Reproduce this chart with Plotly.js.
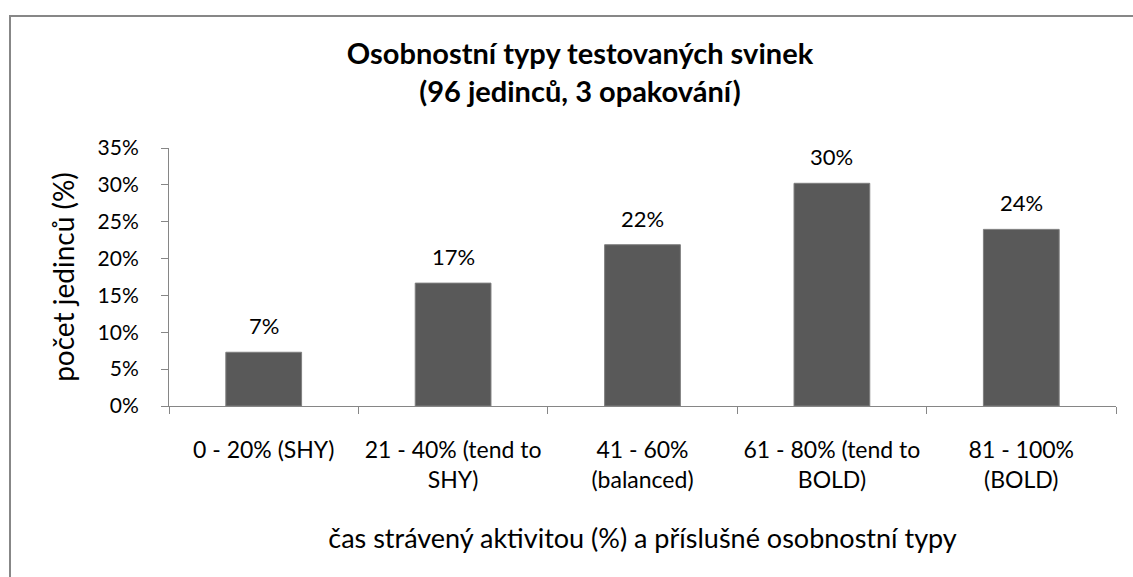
<!DOCTYPE html>
<html>
<head>
<meta charset="utf-8">
<script src="https://cdn.plot.ly/plotly-3.0.1.min.js"></script>
<style>
  html, body { margin: 0; padding: 0; background: #fff; }
  #wrap { position: relative; width: 1133px; height: 577px; overflow: hidden; }
  #chart { position: absolute; left: 0; top: 0; width: 1133px; height: 577px; }
  #frame { position: absolute; left: 9px; top: 15px; width: 1200px; height: 700px;
           border: 2px solid #878787; pointer-events: none; box-sizing: border-box; }
</style>
</head>
<body>
<div id="wrap">
  <div id="chart"></div>
  <div id="frame"></div>
</div>
<script>
const categories = ["0-20", "21-40", "41-60", "61-80", "81-100"];
const tickLabels = [
  "0 - 20% (SHY)",
  "21 - 40% (tend to<br>SHY)",
  "41 - 60%<br>(balanced)",
  "61 - 80% (tend to<br>BOLD)",
  "81 - 100%<br>(BOLD)"
];
const percentValues = [7.29, 16.67, 21.88, 30.21, 23.96];
const yTickVals = [0, 5, 10, 15, 20, 25, 30, 35];

const FONT = "Lato, 'Open Sans', sans-serif";

const trace = {
  type: "bar",
  x: categories,
  y: percentValues,
  width: 0.4,
  marker: { color: "#595959", line: { color: "#7f7f7f", width: 1 } },
  hoverinfo: "skip"
};

const annotations = categories.map((c, i) => ({
  x: c, y: percentValues[i], xref: "x", yref: "y",
  text: Math.round(percentValues[i]) + "%",
  showarrow: false, yanchor: "bottom", yshift: 11,
  font: { family: FONT, size: 22, color: "#000" }
}));

const layout = {
  width: 1133, height: 577,
  margin: { l: 169, r: 17, t: 148, b: 171, pad: 0 },
  paper_bgcolor: "#fff", plot_bgcolor: "#fff",
  showlegend: false,
  font: { family: FONT, color: "#000" },
  title: {
    text: "<b>Osobnostní typy testovaných svinek<br>(96 jedinců, 3 opakování)</b>",
    font: { family: FONT, size: 29, color: "#000" },
    x: 580 / 1133, xref: "container", xanchor: "center",
    y: 1 - 64 / 577, yref: "container", yanchor: "top"
  },
  xaxis: {
    type: "category",
    tickvals: categories, ticktext: tickLabels,
    tickson: "boundaries",
    ticks: "outside", ticklen: 7, tickcolor: "#868686", tickwidth: 1,
    showline: true, linecolor: "#868686", linewidth: 1,
    showgrid: false, zeroline: false,
    tickfont: { family: FONT, size: 23, color: "#000" },
    ticklabelstandoff: 23,
    title: {
      text: "čas strávený aktivitou (%) a příslušné osobnostní typy",
      font: { family: FONT, size: 27, color: "#000" },
      standoff: 37
    },
    automargin: false
  },
  yaxis: {
    range: [0, 35],
    tickvals: yTickVals,
    ticktext: yTickVals.map(v => v + "%"),
    ticks: "outside", ticklen: 7, tickcolor: "#868686", tickwidth: 1,
    showline: true, linecolor: "#868686", linewidth: 1,
    showgrid: false, zeroline: false,
    tickfont: { family: FONT, size: 21, color: "#000" },
    ticklabelstandoff: 18,
    title: {
      text: "počet jedinců (%)",
      font: { family: FONT, size: 28, color: "#000" },
      standoff: 14
    },
    automargin: false
  },
  annotations: annotations
};

Plotly.newPlot("chart", [trace], layout, { staticPlot: true, displayModeBar: false });
</script>
</body>
</html>
